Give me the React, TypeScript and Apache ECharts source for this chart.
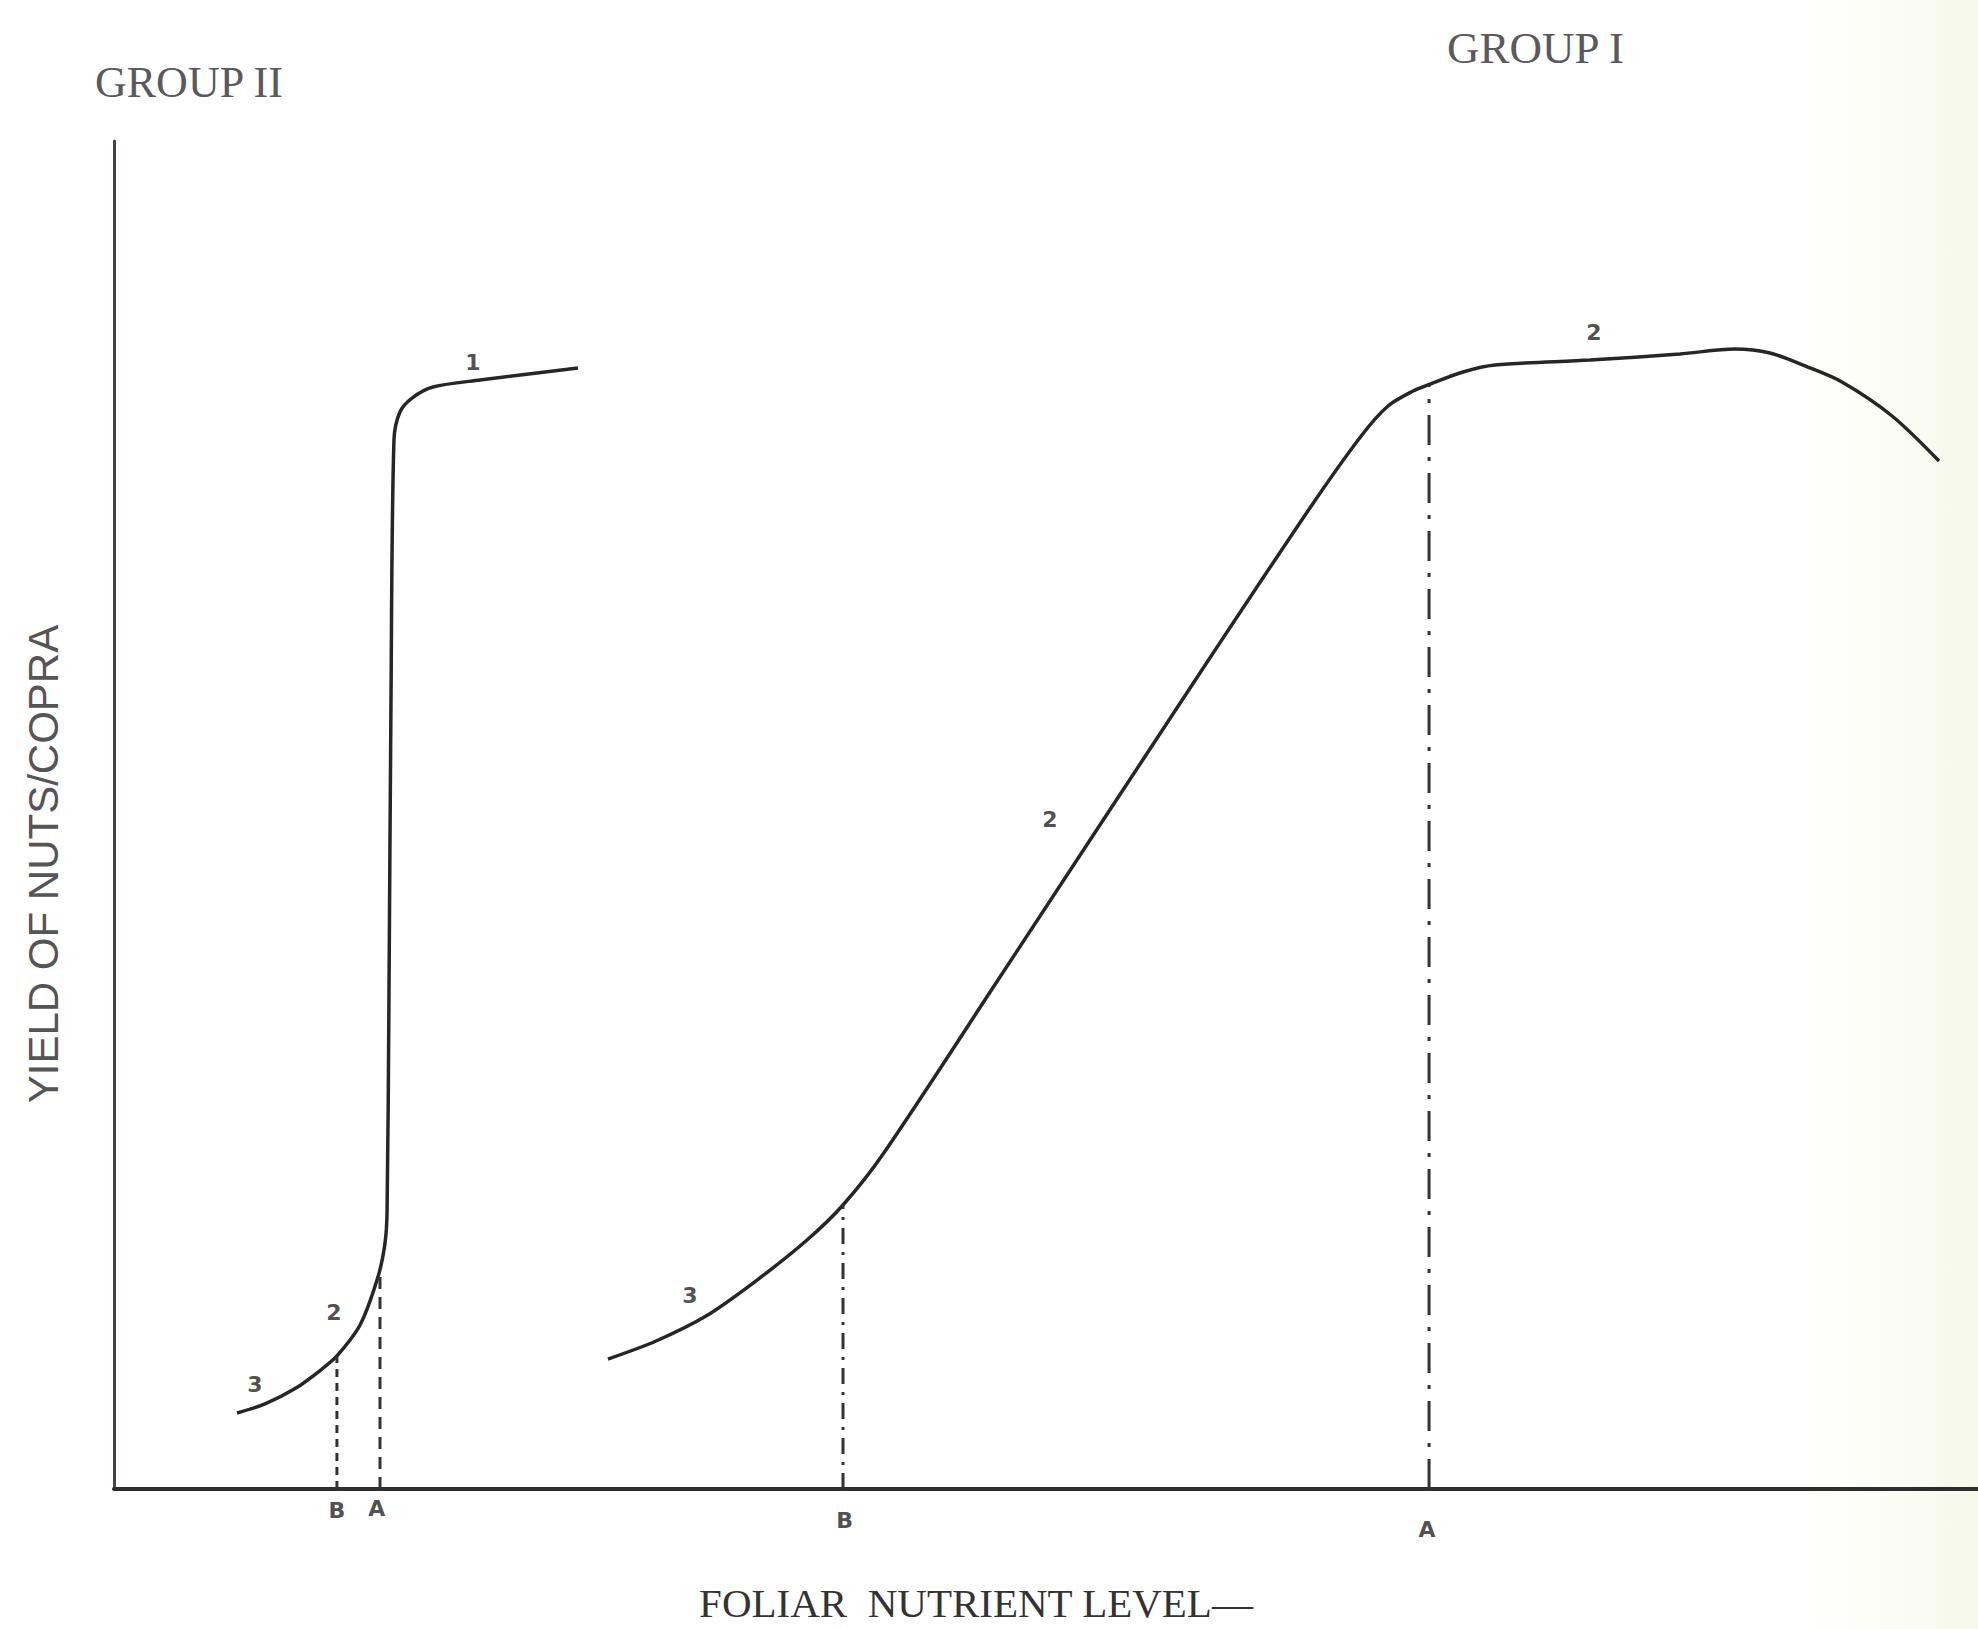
import React, { useEffect, useRef } from "react";
import * as echarts from "echarts";

// Group II response curve (foliar level, yield) in arbitrary units 0-100
const group2CurveX = [6.6, 8.1, 9.76, 11.16, 11.96, 13.2, 14.16, 14.54, 14.65, 14.75, 14.86, 15.02, 15.34, 15.99, 17.11, 19.64, 24.89];
const group2CurveY = [5.64, 6.31, 7.49, 8.9, 9.87, 12.17, 15.73, 18.25, 20.62, 36.28, 58.53, 77.82, 79.9, 80.93, 81.75, 82.27, 83.16];

// Group I response curve
const group1CurveX = [26.5, 29.08, 31.76, 34.5, 37.18, 39.11, 41.26, 47.53, 58.26, 64.27, 66.95, 68.35, 69.69, 70.49, 72.37, 74.09, 79.18, 84.01, 86.96, 88.84, 90.72, 92.7, 95.39, 97.91];
const group1CurveY = [9.64, 10.98, 12.83, 15.5, 18.47, 21.07, 24.85, 37.98, 60.53, 73.0, 78.19, 80.34, 81.45, 81.9, 82.86, 83.38, 83.75, 84.2, 84.57, 84.27, 83.31, 82.12, 79.6, 76.26];

// Drop lines to the nutrient axis (critical levels)
const dropNames = ["B", "A", "B", "A"];
const dropX = [11.96, 14.27, 39.11, 70.55];
const dropTop = [9.87, 16.0, 21.07, 81.9];
const dropLabelX = [11.96, 14.1, 39.2, 70.44];
const dropLabelY = [-1.63, -1.41, -2.3, -3.04];

// Zone labels on the curves
const zoneNames = ["3", "2", "1", "3", "2", "2"];
const zoneX = [7.56, 11.8, 19.26, 30.9, 50.21, 79.4];
const zoneY = [7.72, 13.13, 83.6, 14.32, 49.63, 85.76];

const groupTitles = ["GROUP II", "GROUP I"];
const axisTitleX = "FOLIAR  NUTRIENT LEVEL\u2014";
const axisTitleY = "YIELD OF NUTS/COPRA";

const zip = (xs: number[], ys: number[]) => xs.map((x, i) => [x, ys[i]]);

export default function App() {
  const ref = useRef<HTMLDivElement>(null);
  useEffect(() => {
    if (!ref.current) return;
    const chart = echarts.init(ref.current, null, { renderer: "svg" });
    const curveStyle = { color: "#262626", width: 3.5 };
    const dropStyles: any[] = [
      [8, 6],
      [12, 8],
      [16, 8, 3, 8],
      [30, 12, 4, 12],
    ];
    const labelStyle = {
      show: true,
      position: "inside",
      formatter: "{b}",
      fontFamily: "DejaVu Sans",
      fontWeight: "bold",
      fontSize: 22,
      color: "#222",
    };
    const series: any[] = [
      {
        type: "line",
        data: zip(group2CurveX, group2CurveY),
        smooth: 0.3,
        showSymbol: false,
        lineStyle: curveStyle,
      },
      {
        type: "line",
        data: zip(group1CurveX, group1CurveY),
        smooth: 0.3,
        showSymbol: false,
        lineStyle: curveStyle,
      },
      ...dropX.map((x, i) => ({
        type: "line",
        data: [
          [x, 0],
          [x, dropTop[i]],
        ],
        showSymbol: false,
        lineStyle: { color: "#333", width: 3, type: dropStyles[i] },
      })),
      {
        type: "scatter",
        symbolSize: 0,
        clip: false,
        data: zoneNames.map((n, i) => ({ name: n, value: [zoneX[i], zoneY[i]] })),
        label: labelStyle,
      },
      {
        type: "scatter",
        symbolSize: 0,
        clip: false,
        data: dropNames.map((n, i) => ({ name: n, value: [dropLabelX[i], dropLabelY[i]] })),
        label: labelStyle,
      },
    ];
    chart.setOption({
      animation: false,
      backgroundColor: "#ffffff",
      grid: { left: 114, right: 0, top: 141, bottom: 140, containLabel: false },
      xAxis: {
        type: "value",
        min: 0,
        max: 100,
        axisLine: { show: true, lineStyle: { color: "#2e2e2e", width: 4 } },
        axisTick: { show: false },
        axisLabel: { show: false },
        splitLine: { show: false },
      },
      yAxis: {
        type: "value",
        min: 0,
        max: 100,
        axisLine: { show: true, lineStyle: { color: "#4a4248", width: 3 } },
        axisTick: { show: false },
        axisLabel: { show: false },
        splitLine: { show: false },
      },
      tooltip: { show: false },
      graphic: [
        {
          type: "rect",
          shape: { x: 1800, y: 0, width: 178, height: 1629 },
          silent: true,
          z: -10,
          style: {
            fill: new echarts.graphic.LinearGradient(0, 0, 1, 0, [
              { offset: 0, color: "rgba(250,250,235,0)" },
              { offset: 1, color: "rgba(246,248,234,1)" },
            ]),
          },
        },
        {
          type: "text",
          left: 95,
          top: 60,
          style: {
            text: groupTitles[0],
            font: "44px 'Liberation Serif'",
            fill: "#5a5a5e",
          },
        },
        {
          type: "text",
          left: 1447,
          top: 25,
          style: {
            text: groupTitles[1],
            font: "45px 'Liberation Serif'",
            fill: "#5a5a5e",
          },
        },
        {
          type: "text",
          x: 976,
          y: 1603,
          style: {
            text: axisTitleX,
            font: "41px 'Liberation Serif'",
            fill: "#333",
            textAlign: "center",
            textVerticalAlign: "middle",
          },
        },
        {
          type: "text",
          x: 43,
          y: 864,
          rotation: Math.PI / 2,
          style: {
            text: axisTitleY,
            font: "42px 'Liberation Sans'",
            fill: "#555",
            textAlign: "center",
            textVerticalAlign: "middle",
          },
        },
      ],
      series,
    });
    return () => chart.dispose();
  }, []);
  return (
    <div
      ref={ref}
      style={{ position: "absolute", left: 0, top: 0, width: 1978, height: 1629 }}
    />
  );
}
